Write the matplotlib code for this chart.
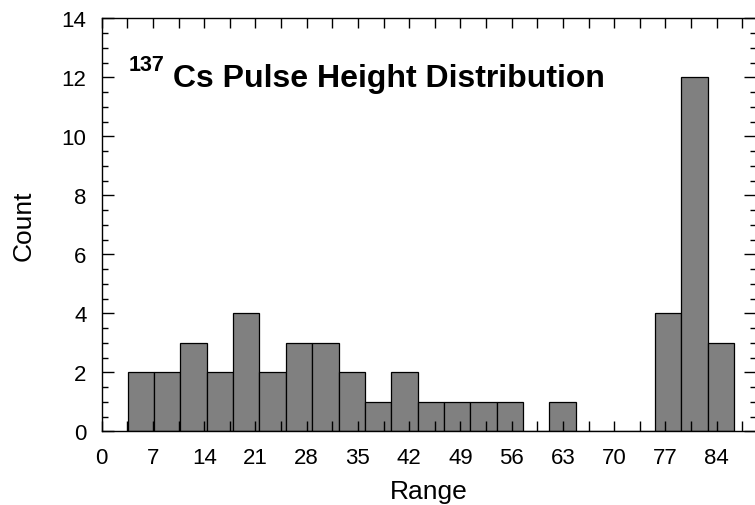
import matplotlib.pyplot as plt
from matplotlib.ticker import MultipleLocator

plt.rcParams['font.family'] = ['Liberation Sans', 'DejaVu Sans']

# histogram bins (left edge + width) and counts
bin_start = 3.55
bin_width = 3.6
counts = [2, 2, 3, 2, 4, 2, 3, 3, 2, 1, 2, 1, 1, 1, 1, 0, 1, 0, 0, 0, 4, 12, 3]
x_ticks = [0, 7, 14, 21, 28, 35, 42, 49, 56, 63, 70, 77, 84]
y_ticks = [0, 2, 4, 6, 8, 10, 12, 14]

lefts = [bin_start + i * bin_width for i in range(len(counts))]

fig = plt.figure(figsize=(7.55, 5.06), dpi=100)
ax = fig.add_axes([0.1347, 0.1453, 0.866, 0.8166])

ax.bar(lefts, counts, width=bin_width, align='edge',
       color='#808080', edgecolor='black', linewidth=0.9)

ax.set_xlim(0, 89.3)
ax.set_ylim(0, 14)
ax.set_xticks(x_ticks)
ax.set_yticks(y_ticks)
ax.xaxis.set_minor_locator(MultipleLocator(3.5))
ax.yaxis.set_minor_locator(MultipleLocator(0.5))

ax.tick_params(axis='both', which='both', direction='in',
               top=True, right=True, labelsize=16, width=1.0)
ax.tick_params(axis='x', which='both', length=7, pad=11)
ax.tick_params(axis='y', which='major', length=8.5, pad=11)
ax.tick_params(axis='y', which='minor', length=4.5)

for s in ax.spines.values():
    s.set_linewidth(1.0)

ax.set_xlabel("Range", fontsize=19, labelpad=8)
ax.set_ylabel("Count", fontsize=19, labelpad=19)

# title inside the plot, superscript drawn as its own text
ax.text(0.0407, 0.875, "137", transform=ax.transAxes, fontsize=15.5,
        fontweight='bold', va='baseline', ha='left')
ax.text(0.1095, 0.8354, "Cs Pulse Height Distribution", transform=ax.transAxes,
        fontsize=23, fontweight='bold', va='baseline', ha='left')

plt.savefig("out.png", dpi=100)
